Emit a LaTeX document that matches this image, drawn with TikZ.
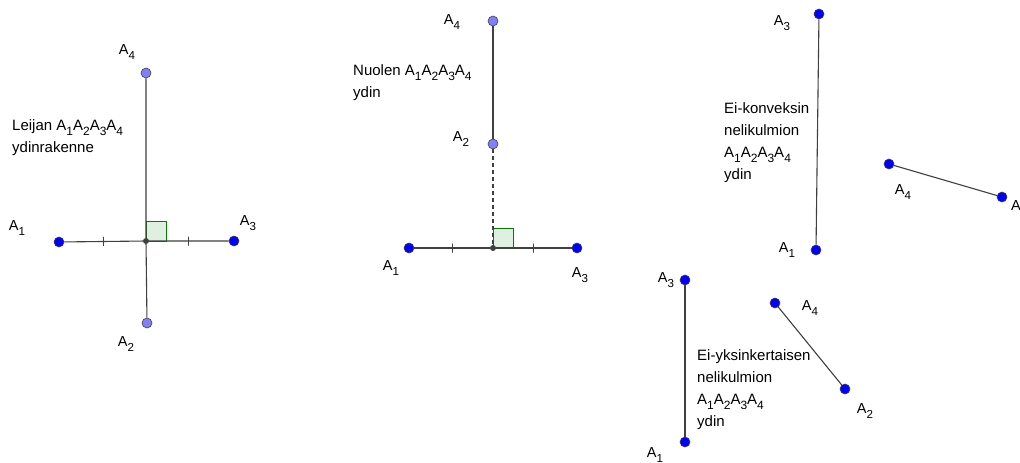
\documentclass[tikz,border=0pt]{standalone}
\usepackage{fontspec}
\setmainfont{Liberation Sans}
\usetikzlibrary{positioning}
\definecolor{GgBlue}{HTML}{0000FF}
\definecolor{GgLight}{HTML}{8080FF}
\definecolor{GgGrey}{HTML}{404040}
\definecolor{GgGreen}{HTML}{007F00}
\newcommand{\ala}[1]{\raisebox{-.33em}{\scalebox{.8}{#1}}}
\newcommand{\Akulmat}{A\ala{1}A\ala{2}A\ala{3}A\ala{4}}

\begin{document}
\begin{tikzpicture}[x=1pt,y=-1pt]
\tikzset{pt/.style={circle,fill=GgBlue,draw=GgGrey,line width=.6pt,minimum size=10pt,inner sep=0pt},ptl/.style={pt,fill=GgLight},mid/.style={circle,fill=GgGrey,minimum size=6pt,inner sep=0pt},seg/.style={GgGrey,line width=1.1pt},tick/.style={draw=GgGrey,line width=1pt,minimum height=9pt,minimum width=0pt,inner sep=0pt},ang/.style={draw=GgGreen,fill=GgGreen!12,line width=.9pt},lbl/.style={font=\fontsize{14.5}{17}\selectfont,inner sep=0pt},note/.style={inner sep=0pt,align=left,anchor=north west,font=\fontsize{15}{22}\selectfont}}
\fill[white] (0,0) rectangle (1020,463);
\useasboundingbox (0,0) rectangle (1020,463);
% leija
\coordinate (lo) at (146,241);
\draw[ang] (lo) rectangle ++(20,-20);
\node[ptl] (l4) at (146,73) {};
\node[ptl] (l2) at (147,323) {};
\node[pt] (l1) at (59,242) {};
\node[pt] (l3) at (234,241) {};
\node[mid] (lm) at (lo) {};
\draw[seg] (l1) -- node[tick]{} (lm) -- node[tick]{} (l3);
\draw[seg] (l4) -- (lm) -- (l2);
\node[lbl] at (17,228) {A\ala{1}};
\node[lbl] at (248,223) {A\ala{3}};
\node[lbl] at (127,52) {A\ala{4}};
\node[lbl] at (126,344) {A\ala{2}};
\node[note] (ln) at (12,119) {Leijan \Akulmat\\ydinrakenne};
% nuoli
\coordinate (mo) at (493,248);
\draw[ang] (mo) rectangle ++(20,-20);
\node[ptl] (m4) at (493,21) {};
\node[ptl] (m2) at (493,144) {};
\node[pt] (m1) at (409,248) {};
\node[pt] (m3) at (577,248) {};
\node[mid] (mm) at (mo) {};
\draw[seg] (m1) -- node[tick]{} (mm) -- node[tick]{} (m3);
\draw[seg] (m4) -- (m2);
\draw[seg,dash pattern=on 4pt off 3pt] (m2) -- (mm);
\node[lbl] at (452,22) {A\ala{4}};
\node[lbl] at (461,139) {A\ala{2}};
\node[lbl] at (391,268) {A\ala{1}};
\node[lbl] at (580,275) {A\ala{3}};
\node[note] (mn) at (353,64) {Nuolen \Akulmat\\ydin};
% ei-konveksi
\node[pt] (r3) at (819,14) {};
\node[pt] (r1) at (816,250) {};
\node[pt] (r4) at (889,164) {};
\node[pt] (r2) at (1002,197) {};
\draw[seg] (r3) -- (r1);\draw[seg] (r4) -- (r2);
\node[lbl] at (782,23) {A\ala{3}};
\node[lbl] at (787,250) {A\ala{1}};
\node[lbl] at (903,192) {A\ala{4}};
\node[lbl,anchor=west] at (1011,208) {A\ala{2}};
\node[note] (rn) at (724,102) {Ei-konveksin\\nelikulmion\\\Akulmat\\ydin};
% ei-yksinkertainen
\node[pt] (s3) at (685,280) {};
\node[pt] (s1) at (685,442) {};
\node[pt] (s4) at (775,303) {};
\node[pt] (s2) at (845,389) {};
\draw[seg] (s3) -- (s1);\draw[seg] (s4) -- (s2);
\node[lbl] at (666,280) {A\ala{3}};
\node[lbl] at (655,455) {A\ala{1}};
\node[lbl] at (810,308) {A\ala{4}};
\node[lbl] at (865,411) {A\ala{2}};
\node[note] (sn) at (697,349) {Ei-yksinkertaisen\\nelikulmion\\\Akulmat\\ydin};
\end{tikzpicture}
\end{document}
